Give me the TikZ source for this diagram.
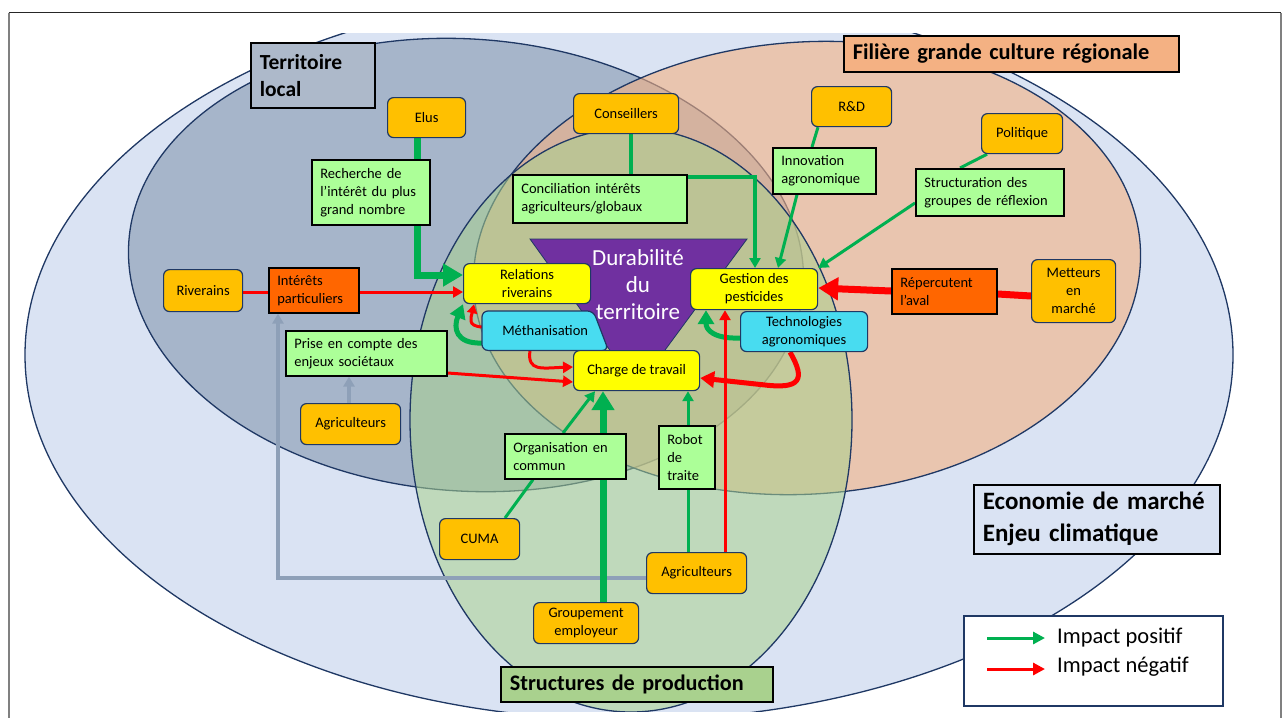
\documentclass[tikz,border=0pt]{standalone}
\usepackage{fontspec}
\setmainfont{Carlito}
\usetikzlibrary{arrows.meta,calc}

\pgfdeclarelayer{ovals}
\pgfdeclarelayer{links}
\pgfdeclarelayer{plates}
\pgfsetlayers{ovals,links,plates,main}

\definecolor{skyfill}{HTML}{DAE3F3}
\definecolor{navy}{HTML}{1F3864}
\definecolor{slate}{HTML}{8497B0}
\definecolor{slatelabel}{HTML}{ADB9CA}
\definecolor{peach}{HTML}{F4B183}
\definecolor{sage}{HTML}{A9D18E}
\definecolor{gold}{HTML}{FFC000}
\definecolor{lemon}{HTML}{FFFF00}
\definecolor{aqua}{HTML}{48DCF0}
\definecolor{mint}{HTML}{ACFF98}
\definecolor{tangerine}{HTML}{FF6600}
\definecolor{plum}{HTML}{7030A0}
\definecolor{posgreen}{HTML}{00B050}
\definecolor{negred}{HTML}{FF0000}
\definecolor{linkgray}{HTML}{8EA0B8}

\newcommand\boxtxt{\fontsize{14.5}{18}\selectfont}
\newcommand\legtxt{\fontsize{22.5}{29}\selectfont}

\tikzset{
  oval/.style={draw=navy, line width=1.3pt},
  actor/.style={draw=navy, line width=1.2pt, fill=gold, rounded corners=6pt,
    align=center, inner sep=0pt, anchor=north west, font=\boxtxt},
  issue/.style={actor, fill=lemon},
  lever/.style={actor, fill=aqua},
  effect/.style={draw=black, line width=1.6pt, fill=mint, anchor=north west,
    inner xsep=8.5pt, inner ysep=0pt, align=left, font=\boxtxt},
  pressure/.style={effect, fill=tangerine},
  zonetag/.style={draw=black, line width=1.6pt, anchor=north west,
    inner xsep=9pt, inner ysep=0pt, align=left},
  goodlink/.style={draw=posgreen, line width=3pt},
  badlink/.style={draw=negred, line width=3pt},
  grlink/.style={draw=linkgray, line width=3.5pt},
  tipS/.style={-{Triangle[length=10pt,width=11pt]}},
  tipM/.style={-{Triangle[length=14pt,width=16pt]}},
  tipL/.style={-{Triangle[length=20pt,width=22pt]}},
}

\begin{document}
\begin{tikzpicture}[x=1pt,y=-1pt]
\useasboundingbox (0,0) rectangle (1284,718);

% frame
\draw[line width=1.5pt, black!85] (8.5,12.5) -- (1281,12.5);
\draw[line width=2pt, black!50] (8.5,12.5) -- (8.5,718);
\draw[line width=2pt, black!50] (1281,12.5) -- (1281,718);

% spheres of influence
\begin{pgfonlayer}{ovals}
\begin{scope}
\clip (10,33) rectangle (1280,711);
\draw[oval, fill=skyfill] (629,355) ellipse [x radius=604pt, y radius=365pt];
\draw[oval, fill=slate, fill opacity=0.6, rotate around={-4:(466,265)}]
  (466,265) ellipse [x radius=338pt, y radius=226pt];
\draw[oval, fill=peach, fill opacity=0.6, rotate around={4:(807,268)}]
  (807,268) ellipse [x radius=334pt, y radius=226pt];
\draw[oval, fill=sage, fill opacity=0.55] (631,420) ellipse [x radius=221pt, y radius=292pt];
\end{scope}
\end{pgfonlayer}

% sphere titles
\node[zonetag, fill=slatelabel, text width=106pt, minimum height=65pt,
  font=\fontsize{21.5}{27}\selectfont\bfseries] (terr) at (250,42) {Territoire\\local};
\node[zonetag, fill=peach, text width=317pt, minimum height=36pt,
  font=\fontsize{22.4}{27}\selectfont\bfseries] (fil) at (843,35) {Filière grande culture régionale};
\node[zonetag, fill=skyfill, text width=228pt, minimum height=69pt,
  font=\fontsize{25}{32}\selectfont\bfseries] (eco) at (973,484) {Economie de marché\\Enjeu climatique};
\node[zonetag, fill=sage, text width=254pt, minimum height=35pt,
  font=\fontsize{22.2}{27}\selectfont\bfseries] (prod) at (500,666) {Structures de production};

% central goal
\begin{pgfonlayer}{plates}
\draw[navy, line width=0.8pt, fill=plum] (530,239) -- (747,239) -- (637,388) -- cycle;
\end{pgfonlayer}
\node[font=\fontsize{23}{27}\selectfont, text=white, align=center, inner sep=0pt] (dur) at (638,285)
  {Durabilité\\du\\territoire};

% actors
\node[actor, minimum width=78pt, minimum height=40pt] (elus) at (387,97) {Elus};
\node[actor, minimum width=105pt, minimum height=40pt] (cons) at (573,93) {Conseillers};
\node[actor, minimum width=80pt, minimum height=40pt] (rd) at (811,86) {R\&D};
\node[actor, minimum width=81pt, minimum height=40pt] (pol) at (981,113) {Politique};
\node[actor, minimum width=79pt, minimum height=42pt] (riv) at (163,269) {Riverains};
\node[actor, minimum width=84pt, minimum height=63pt] (mett) at (1031,259) {Metteurs\\en\\marché};
\node[actor, minimum width=100pt, minimum height=41pt] (agri1) at (300,403) {Agriculteurs};
\node[actor, minimum width=80pt, minimum height=41pt] (cuma) at (439,518) {CUMA};
\node[actor, minimum width=105pt, minimum height=41pt] (grp) at (533,602) {Groupement\\employeur};
\node[actor, minimum width=100pt, minimum height=41pt] (agri2) at (646,552) {Agriculteurs};

% stakes
\node[issue, minimum width=127pt, minimum height=40pt] (rel) at (463,263) {Relations\\riverains};
\node[issue, minimum width=127pt, minimum height=41pt] (gest) at (690,268) {Gestion des\\pesticides};
\node[issue, minimum width=126pt, minimum height=40pt] (charge) at (573,350) {Charge de travail};

% levers
\node[lever, minimum width=127pt, minimum height=40pt] (tech) at (740,311) {Technologies\\agronomiques};
\node[minimum width=126pt, minimum height=39pt, inner sep=0pt, anchor=north west, font=\boxtxt]
  (meth) at (482,311) {Méthanisation};
\begin{pgfonlayer}{plates}
\draw[navy, line width=1.2pt, fill=aqua, rounded corners=6pt]
  (meth.west) -- (meth.north west) -- ($(meth.north east)+(-15,0)$) -- (meth.south east)
  -- (meth.south west) -- cycle;
\end{pgfonlayer}

% mechanisms
\node[effect, text width=101pt, minimum height=65pt] (rech) at (311,159)
  {Recherche de\\l’intérêt du plus\\grand nombre};
\node[effect, text width=157pt, minimum height=48pt] (concil) at (512,174)
  {Conciliation intérêts\\agriculteurs/globaux};
\node[effect, text width=86pt, minimum height=46pt] (innov) at (772,147)
  {Innovation\\agronomique};
\node[effect, text width=131pt, minimum height=47pt] (struc) at (915,168)
  {Structuration des\\groupes de réflexion};
\node[effect, text width=144pt, minimum height=45pt] (prise) at (285,330)
  {Prise en compte des\\enjeux sociétaux};
\node[effect, text width=104pt, minimum height=45pt] (orga) at (504,433)
  {Organisation en\\commun};
\node[effect, text width=39pt, minimum height=63pt] (robot) at (658,425)
  {Robot\\de\\traite};
\node[pressure, text width=73pt, minimum height=45pt] (inter) at (268,267)
  {Intérêts\\particuliers};
\node[pressure, text width=88pt, minimum height=45pt] (reper) at (891,268)
  {Répercutent\\l’aval};

% legend
\node[draw=navy, line width=1.5pt, fill=white, minimum width=259pt, minimum height=90pt,
  anchor=north west, inner sep=0pt] (legend) at (963,615) {};
\node[anchor=west, inner sep=0pt, font=\legtxt] (legpos) at (1057,638) {Impact positif};
\node[anchor=west, inner sep=0pt, font=\legtxt] (legneg) at (1057,667) {Impact négatif};
\coordinate (legposfrom) at (987,638);
\coordinate (legnegfrom) at (987,669);
\draw[goodlink, -{Triangle[length=12pt,width=12pt]}] (legposfrom) -- ($(legpos.west)+(-12,0)$);
\draw[badlink, -{Triangle[length=12pt,width=12pt]}] (legnegfrom) -- ($(legneg.west |- legnegfrom)+(-12,0)$);

% impacts
\begin{pgfonlayer}{links}
% neutral links
\draw[grlink, tipS] (agri1.north -| 349,0) -- (prise.south -| 349,0);
\draw[grlink, tipS] (agri2.west |- 0,578) -| (inter.south -| 278,0);

% positive impacts
\draw[goodlink, line width=7pt] (elus.south -| 417,0) -- (rech.north -| 417,0);
\draw[goodlink, line width=7pt, tipL] (rech.south -| 417,0) |- (rel.west |- 0,275);
\draw[goodlink, line width=4pt] (cons.south -| 631,0) -- (concil.north -| 631,0);
\draw[goodlink, line width=4pt, tipS] (concil.east |- 0,177) -| (gest.north -| 755,0);
\draw[goodlink] (rd.south -| 818,0) -- (innov.north -| 812,0);
\draw[goodlink, tipS] (innov.south -| 797,0) -- (gest.north -| 778,0);
\draw[goodlink] (pol.south -| 987,0) -- (struc.north -| 960,0);
\draw[goodlink, tipS] (struc.west |- 0,203) -- (gest.north east);
\draw[goodlink, line width=5pt, tipM] (meth.west |- 0,343) .. controls (456,344) and (453,328) .. (rel.south west);
\draw[goodlink, line width=5pt, tipM] (tech.west |- 0,338) .. controls (714,339) and (706,330) .. (gest.south -| 706,0);
\draw[goodlink] (cuma.north -| 505,0) -- (orga.south -| 533,0);
\draw[goodlink, tipS] (orga.north -| 563,0) -- (charge.south -| 595,0);
\draw[goodlink, line width=7pt, -{Triangle[length=19pt,width=22pt]}] (grp.north -| 603,0) -- (charge.south -| 603,0);
\draw[goodlink] (agri2.north -| 688,0) -- (robot.south -| 688,0);
\draw[goodlink, tipS] (robot.north -| 688,0) -- (charge.south -| 688,0);

% negative impacts
\draw[badlink] (riv.east |- 0,292) -- (inter.west |- 0,292);
\draw[badlink, tipS] (inter.east |- 0,292) -- (rel.west |- 0,292);
\draw[badlink, -{Triangle[length=9pt,width=10pt]}] (meth.west |- 0,327) .. controls (467,326) and (471,318) .. (rel.south -| 474,0);
\draw[badlink, tipS] (meth.south -| 530,0) .. controls (527,372) and (542,368) .. (charge.west |- 0,367);
\draw[badlink, tipS] (prise.east |- 0,373) -- (charge.west |- 0,382);
\draw[badlink, line width=5pt, tipM] (tech.south -| 790,0) .. controls (806,380) and (800,389) .. (765,385) -- (charge.east |- 0,378);
\draw[badlink, tipS] (agri2.north -| 725,0) -- (gest.south -| 725,0);
\draw[badlink, line width=7pt] (mett.west |- 0,296) -- (reper.east |- 0,294);
\draw[badlink, line width=7pt, tipL] (reper.west |- 0,291) -- (gest.east |- 0,288);
\end{pgfonlayer}

\end{tikzpicture}
\end{document}
